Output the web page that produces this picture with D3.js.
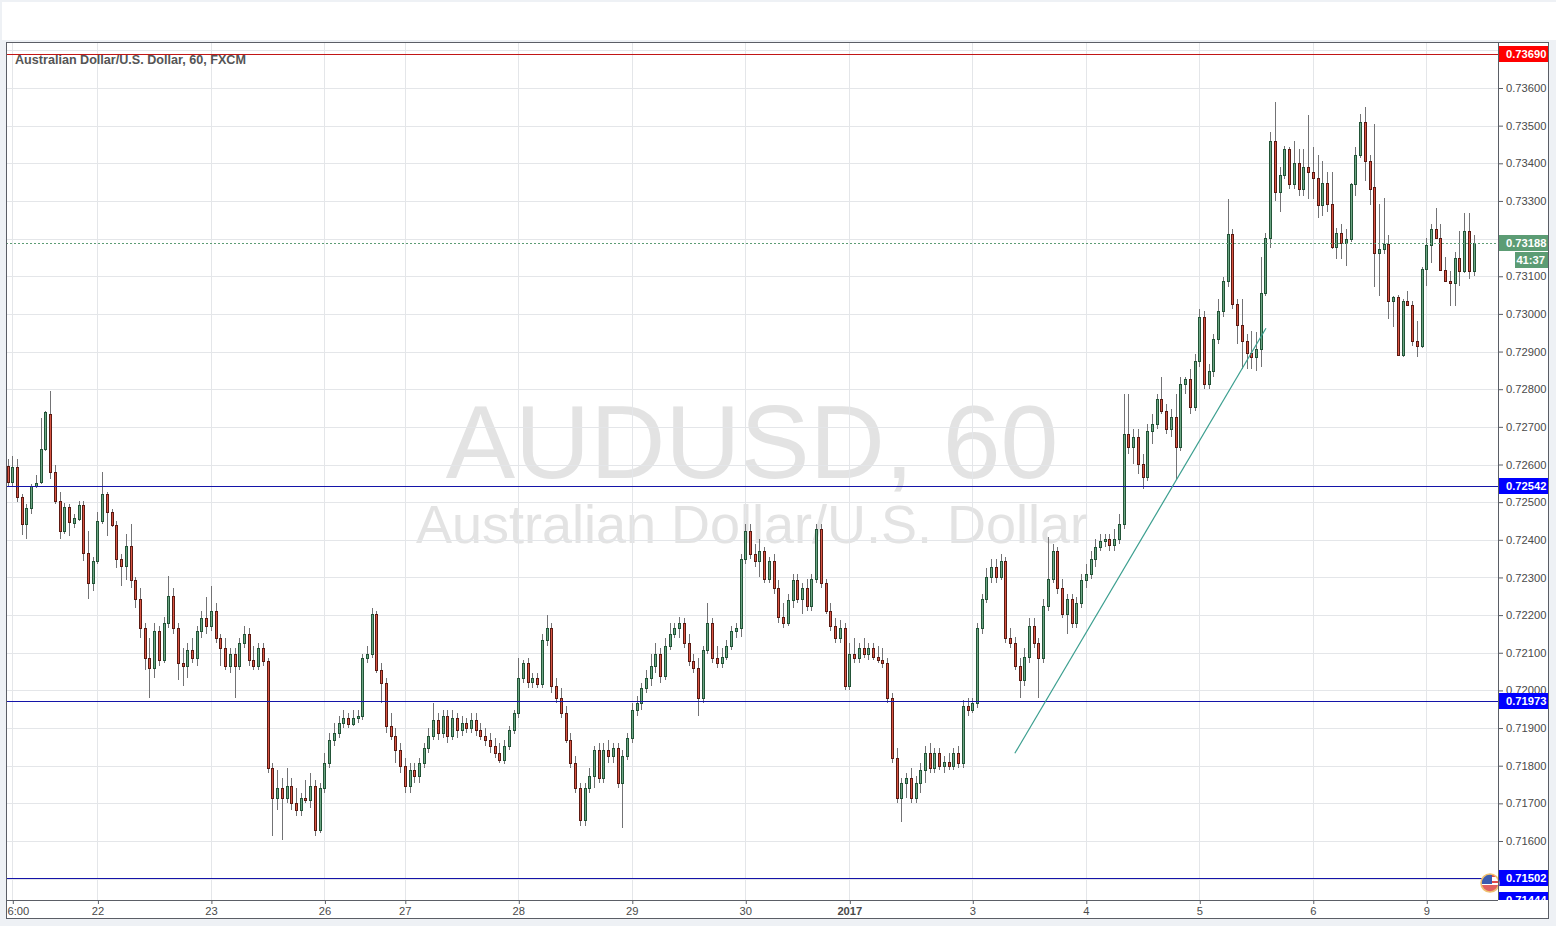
<!DOCTYPE html>
<html><head><meta charset="utf-8">
<script src="https://cdn.jsdelivr.net/npm/d3@7/dist/d3.min.js"></script>
<style>html,body{margin:0;padding:0;background:#eef1f5;overflow:hidden}svg{display:block}</style>
</head><body>
<svg id="c" width="1556" height="926"></svg>
<script>
// ---------- DATA (AUD/USD, 60 min, FXCM) ----------
const opens=[.72596,.72554,.72594,.72514,.72443,.72485,.72543,.72554,.72642,.72734,.72581,.72504,.72424,.72488,.72445,.72456,.72493,.72366,.72286,.72345,.72451,.72522,.72475,.72440,.72350,.72331,.72384,.72292,.72244,.72165,
.72085,.72059,.72159,.72080,.72178,.72252,.72165,.72072,.72064,.72106,.72085,.72159,.72191,.72170,.72212,.72138,.72112,.72064,.72098,.72064,.72125,.72151,.72080,.72064,.72112,.72077,.71794,.71714,.71741,.71714,
.71746,.71701,.71682,.71714,.71709,.71746,.71629,.71741,.71807,.71868,.71886,.71913,.71926,.71910,.71926,.71931,.72085,.72096,.72204,.72053,.72019,.71905,.71878,.71841,.71799,.71746,.71788,.71772,.71807,.71847,
.71878,.71921,.71886,.71931,.71878,.71926,.71894,.71913,.71900,.71921,.71894,.71878,.71868,.71852,.71833,.71815,.71852,.71894,.71939,.72032,.72072,.72021,.72032,.72016,.72133,.72165,.72011,.71979,.71939,.71868,
.71807,.71741,.71656,.71741,.71772,.71841,.71767,.71841,.71825,.71847,.71754,.71825,.71873,.71947,.71966,.72006,.72032,.72064,.72098,.72037,.72117,.72151,.72165,.72178,.72125,.72077,.72059,.71979,.72106,.72178,
.72085,.72072,.72090,.72117,.72159,.72165,.72350,.72424,.72363,.72345,.72371,.72297,.72345,.72271,.72196,.72178,.72239,.72292,.72244,.72271,.72223,.72297,.72430,.72284,.72212,.72170,.72138,.72165,.72011,.72098,
.72085,.72112,.72098,.72112,.72090,.72080,.72072,.71979,.71820,.71714,.71754,.71767,.71714,.71754,.71788,.71833,.71794,.71833,.71799,.71809,.71799,.71833,.71807,.71958,.71947,.71966,.72165,.72244,.72302,.72329,
.72302,.72345,.72138,.72125,.72064,.72027,.72090,.72170,.72125,.72085,.72223,.72297,.72371,.72271,.72204,.72244,.72178,.72231,.72292,.72310,.72350,.72382,.72398,.72403,.72387,.72403,.72443,.72681,.72647,.72673,
.72602,.72567,.72689,.72708,.72774,.72742,.72695,.72726,.72647,.72814,.72827,.72753,.72875,.72991,.72814,.72848,.72933,.73007,.73087,.73211,.73026,.72970,.72928,.72896,.72885,.72907,.73055,.73201,.73460,.73325,
.73368,.73437,.73346,.73402,.73333,.73391,.73376,.73362,.73288,.73349,.73293,.73179,.73214,.73187,.73198,.73346,.73423,.73511,.73407,.73336,.73161,.73172,.73185,.73034,.73044,.72891,.73034,.73023,.72928,.72914,
.73119,.73182,.73225,.73201,.73116,.73087,.73081,.73148,.73113,.73219,.73113];
const highs=[.72615,.72623,.72615,.72522,.72496,.72549,.72573,.72724,.72742,.72795,.72599,.72528,.72498,.72496,.72469,.72504,.72504,.72424,.72355,.72475,.72581,.72528,.72483,.72451,.72363,.72416,.72443,.72302,.72271,.72178,
.72138,.72178,.72170,.72196,.72305,.72271,.72178,.72112,.72125,.72138,.72170,.72212,.72249,.72278,.72231,.72151,.72138,.72112,.72112,.72138,.72170,.72165,.72117,.72125,.72125,.72085,.71807,.71788,.71767,.71794,
.71767,.71741,.71727,.71762,.71780,.71762,.71754,.71833,.71886,.71913,.71931,.71947,.71939,.71947,.71947,.72098,.72117,.72218,.72212,.72072,.72032,.71939,.71900,.71860,.71820,.71807,.71807,.71820,.71860,.71900,
.71966,.71939,.71947,.71947,.71947,.71939,.71931,.71926,.71939,.71939,.71913,.71900,.71886,.71873,.71860,.71868,.71905,.71947,.72085,.72080,.72085,.72045,.72045,.72151,.72199,.72178,.72032,.72006,.71958,.71886,
.71825,.71754,.71754,.71794,.71852,.71860,.71860,.71868,.71860,.71860,.71841,.71886,.71966,.71984,.72019,.72053,.72098,.72125,.72112,.72138,.72178,.72178,.72196,.72191,.72151,.72098,.72085,.72117,.72231,.72191,
.72117,.72112,.72133,.72170,.72178,.72363,.72443,.72443,.72390,.72403,.72382,.72355,.72363,.72292,.72231,.72257,.72310,.72310,.72284,.72297,.72310,.72443,.72443,.72297,.72231,.72191,.72186,.72178,.72125,.72138,
.72125,.72138,.72125,.72125,.72117,.72112,.72085,.71992,.71847,.71767,.71780,.71794,.71772,.71807,.71852,.71860,.71847,.71847,.71825,.71833,.71847,.71852,.71974,.71979,.71979,.72178,.72257,.72324,.72350,.72350,
.72363,.72355,.72165,.72143,.72085,.72112,.72191,.72191,.72138,.72244,.72408,.72390,.72382,.72297,.72257,.72257,.72249,.72310,.72337,.72371,.72403,.72416,.72416,.72416,.72430,.72469,.72787,.72787,.72695,.72695,
.72628,.72708,.72734,.72787,.72832,.72761,.72748,.72787,.72832,.72832,.72854,.72893,.73013,.73007,.72867,.72946,.73039,.73097,.73304,.73225,.73039,.73039,.72946,.72954,.72952,.73150,.73214,.73482,.73564,.73391,
.73447,.73444,.73458,.73437,.73437,.73527,.73444,.73421,.73407,.73376,.73376,.73227,.73240,.73225,.73349,.73442,.73532,.73550,.73423,.73505,.73291,.73309,.73209,.73047,.73050,.73039,.73060,.73034,.72981,.73124,
.73201,.73240,.73280,.73240,.73150,.73113,.73164,.73219,.73267,.73267,.73209];
const lows=[.72543,.72543,.72501,.72414,.72403,.72469,.72538,.72549,.72636,.72562,.72496,.72403,.72416,.72411,.72432,.72451,.72345,.72244,.72265,.72337,.72443,.72411,.72435,.72324,.72276,.72292,.72271,.72218,.72138,.72053,
.71979,.72032,.72064,.72072,.72165,.72151,.72027,.72011,.72032,.72072,.72064,.72138,.72151,.72159,.72125,.72064,.72053,.72045,.71979,.72053,.72112,.72064,.72053,.72053,.72064,.71780,.71613,.71682,.71603,.71701,
.71682,.71666,.71666,.71701,.71688,.71613,.71621,.71727,.71794,.71852,.71873,.71900,.71900,.71905,.71913,.71921,.72072,.72085,.72045,.71966,.71886,.71868,.71807,.71780,.71727,.71727,.71754,.71754,.71794,.71833,
.71868,.71868,.71873,.71860,.71868,.71873,.71878,.71886,.71886,.71878,.71868,.71852,.71833,.71820,.71807,.71804,.71841,.71884,.71926,.72019,.72006,.72006,.72006,.72006,.72117,.71992,.71966,.71926,.71860,.71794,
.71727,.71640,.71640,.71727,.71741,.71754,.71754,.71807,.71807,.71741,.71635,.71815,.71860,.71931,.71947,.71992,.72011,.72045,.72019,.72027,.72106,.72138,.72138,.72112,.72064,.72045,.71931,.71966,.72096,.72072,
.72059,.72059,.72080,.72106,.72138,.72143,.72337,.72350,.72329,.72302,.72284,.72284,.72257,.72178,.72165,.72170,.72218,.72231,.72204,.72212,.72212,.72284,.72271,.72204,.72159,.72125,.72125,.72000,.72000,.72072,
.72072,.72085,.72080,.72080,.72072,.72059,.71966,.71807,.71701,.71650,.71714,.71701,.71701,.71727,.71754,.71780,.71780,.71788,.71780,.71788,.71788,.71794,.71794,.71931,.71939,.71953,.72151,.72231,.72284,.72284,
.72292,.72125,.72112,.72053,.71979,.72011,.72072,.72112,.71979,.72072,.72212,.72284,.72257,.72191,.72151,.72165,.72165,.72218,.72271,.72297,.72329,.72371,.72382,.72371,.72371,.72390,.72430,.72628,.72602,.72575,
.72536,.72557,.72655,.72695,.72734,.72681,.72673,.72562,.72636,.72787,.72734,.72742,.72859,.72801,.72801,.72832,.72920,.72991,.73071,.73013,.72920,.72854,.72854,.72854,.72848,.72859,.73047,.73174,.73299,.73270,
.73357,.73331,.73331,.73312,.73312,.73304,.73304,.73256,.73259,.73270,.73172,.73145,.73145,.73126,.73190,.73312,.73413,.73354,.73288,.73071,.73047,.73158,.72986,.72965,.72888,.72885,.73020,.72914,.72885,.72909,
.73073,.73134,.73198,.73113,.73084,.73020,.73020,.73073,.73108,.73092,.73100];
const closes=[.72554,.72594,.72514,.72443,.72485,.72543,.72551,.72642,.72740,.72581,.72504,.72424,.72488,.72448,.72459,.72493,.72366,.72286,.72345,.72451,.72522,.72475,.72440,.72350,.72331,.72384,.72292,.72244,.72165,.72085,
.72059,.72159,.72080,.72178,.72252,.72165,.72072,.72064,.72106,.72085,.72159,.72191,.72170,.72212,.72138,.72112,.72064,.72098,.72064,.72125,.72151,.72080,.72064,.72112,.72077,.71794,.71714,.71741,.71714,.71746,
.71701,.71682,.71714,.71709,.71746,.71629,.71741,.71807,.71868,.71886,.71913,.71926,.71910,.71926,.71931,.72085,.72096,.72204,.72053,.72019,.71905,.71878,.71841,.71799,.71746,.71788,.71772,.71807,.71847,.71878,
.71921,.71886,.71931,.71878,.71926,.71894,.71913,.71900,.71921,.71894,.71878,.71868,.71852,.71833,.71815,.71852,.71894,.71939,.72032,.72072,.72021,.72032,.72016,.72133,.72165,.72011,.71979,.71939,.71868,.71807,
.71741,.71656,.71741,.71772,.71841,.71767,.71841,.71825,.71847,.71754,.71825,.71873,.71947,.71966,.72006,.72032,.72064,.72098,.72037,.72117,.72151,.72165,.72178,.72125,.72077,.72059,.71979,.72106,.72178,.72085,
.72072,.72090,.72117,.72159,.72165,.72350,.72424,.72363,.72345,.72371,.72297,.72345,.72271,.72196,.72178,.72239,.72292,.72244,.72271,.72223,.72297,.72430,.72284,.72212,.72170,.72138,.72165,.72011,.72098,.72085,
.72112,.72098,.72112,.72090,.72080,.72072,.71979,.71820,.71714,.71754,.71767,.71714,.71754,.71788,.71833,.71794,.71833,.71799,.71809,.71799,.71833,.71807,.71958,.71947,.71966,.72165,.72244,.72302,.72329,.72302,
.72345,.72138,.72125,.72064,.72027,.72090,.72170,.72125,.72085,.72223,.72297,.72371,.72271,.72204,.72244,.72178,.72231,.72292,.72310,.72350,.72382,.72398,.72403,.72387,.72403,.72443,.72681,.72647,.72673,.72602,
.72567,.72689,.72708,.72774,.72742,.72695,.72726,.72647,.72814,.72827,.72753,.72875,.72991,.72814,.72848,.72933,.73007,.73087,.73211,.73026,.72970,.72928,.72896,.72885,.72907,.73055,.73201,.73460,.73325,.73368,
.73437,.73346,.73402,.73333,.73391,.73376,.73362,.73288,.73349,.73293,.73179,.73214,.73187,.73198,.73346,.73423,.73511,.73407,.73333,.73161,.73172,.73185,.73034,.73044,.72891,.73034,.73023,.72928,.72914,.73119,
.73182,.73225,.73201,.73116,.73087,.73081,.73148,.73113,.73219,.73113,.73188];

const priceTicks=[0.7150,0.7160,0.7170,0.7180,0.7190,0.7200,0.7210,0.7220,0.7230,0.7240,0.7250,0.7260,0.7270,0.7280,0.7290,0.7300,0.7310,0.7320,0.7330,0.7340,0.7350,0.7360,0.7370];
const timeTickIdx=[1,19,43,67,84,108,132,156,178,204,228,252,276,300];
const timeTickLabels=["6:00","22","23","26","27","28","29","30","2017","3","4","5","6","9"];
const levelValues=[0.73690,0.72542,0.71973,0.71502,0.71444];
const levelColors=["#c21616","#1414a8","#1414a8","#1414a8","#1414a8"];
const levelBoxColors=["#ff0000","#0000ff","#0000ff","#0000ff","#0000ff"];
const lastPrice=0.73188, countdown="41:37";
const trendIdx=[213,266.1], trendPrice=[0.71833,0.72962];
const title="Australian Dollar/U.S. Dollar, 60, FXCM";
const watermark1="AUDUSD, 60", watermark2="Australian Dollar/U.S. Dollar";

// ---------- LAYOUT ----------
const W=1556,H=926;
const F={l:6,t:42,r:1549,b:919};
const P={l:6,t:42,r:1498,b:900};
const UP="#6ba583",DN="#d75442",UPB="#225437",DNB="#5b1a13",WICK="#737375";
const AX="#5b5e66",TXT="#4a4a4a",GRID="#e4e6e9",LASTC="#5c9c74";
const FONT="'Liberation Sans',Arial,sans-serif";
const AXFS=11.2;

const svg=d3.select("#c");
svg.append("rect").attr("width",W).attr("height",H).attr("fill","#eef1f5");
svg.append("rect").attr("x",2).attr("y",2).attr("width",W-2).attr("height",38).attr("fill","#fff");
svg.append("rect").attr("x",F.l).attr("y",F.t).attr("width",F.r-F.l).attr("height",F.b-F.t).attr("fill","#fff");

const defs=svg.append("defs");
defs.append("clipPath").attr("id","plotClip").append("rect").attr("x",P.l+1).attr("y",P.t+1).attr("width",P.r-P.l-1).attr("height",P.b-P.t-1);
defs.append("clipPath").attr("id","axClip").append("rect").attr("x",P.r).attr("y",P.t+1).attr("width",F.r-P.r).attr("height",P.b-P.t-1);

const x=d3.scaleLinear().domain([0,310]).range([7.57,7.57+310*4.729]);
const y=d3.scaleLinear().domain([0.716,0.736]).range([841,88]);
const cr=v=>Math.round(v)+0.5;

const plot=svg.append("g").attr("clip-path","url(#plotClip)");
// watermark
plot.append("text").attr("x",752).attr("y",478).attr("text-anchor","middle").attr("font-family",FONT)
  .attr("font-size",104).attr("fill","#e3e3e3").text(watermark1);
plot.append("text").attr("x",752).attr("y",543).attr("text-anchor","middle").attr("font-family",FONT)
  .attr("font-size",54).attr("fill","#e3e3e3").text(watermark2);
// grid
plot.selectAll(".hg").data(priceTicks).join("line").attr("x1",P.l).attr("x2",P.r)
  .attr("y1",d=>cr(y(d))).attr("y2",d=>cr(y(d))).attr("stroke",GRID);
plot.selectAll(".vg").data(timeTickIdx).join("line").attr("y1",P.t).attr("y2",P.b)
  .attr("x1",d=>cr(x(d))).attr("x2",d=>cr(x(d))).attr("stroke",GRID);
// title
plot.append("text").attr("x",15).attr("y",64).attr("font-family",FONT).attr("font-size",12.6)
  .attr("font-weight","bold").attr("fill","#555").text(title);

// candles
const bars=d3.range(opens.length).map(i=>({i,o:opens[i],h:highs[i],l:lows[i],c:closes[i]}));
const cg=plot.append("g").attr("shape-rendering","crispEdges");
bars.forEach(b=>{
  const px=Math.round(x(b.i));
  const up=b.c>=b.o;
  cg.append("rect").attr("x",px).attr("width",1).attr("y",Math.round(y(b.h))).attr("height",Math.max(1,Math.round(y(b.l))-Math.round(y(b.h)))).attr("fill",WICK);
  const yt=Math.round(y(Math.max(b.o,b.c))), yb=Math.round(y(Math.min(b.o,b.c)));
  const hh=Math.max(2,yb-yt+1);
  cg.append("rect").attr("x",px-1).attr("width",3).attr("y",yt).attr("height",hh).attr("fill",up?UPB:DNB);
  if(hh>2) cg.append("rect").attr("x",px).attr("width",1).attr("y",yt+1).attr("height",hh-2).attr("fill",up?UP:DN);
});

// level lines
levelValues.forEach((v,k)=>{
  plot.append("rect").attr("x",P.l).attr("width",P.r-P.l).attr("y",Math.round(y(v))).attr("height",1)
    .attr("fill",levelColors[k]).attr("shape-rendering","crispEdges");
});
// last price dotted line
plot.append("line").attr("x1",P.l).attr("x2",P.r).attr("y1",cr(y(lastPrice))).attr("y2",cr(y(lastPrice)))
  .attr("stroke",LASTC).attr("stroke-dasharray","2,2");
// trend line
plot.append("line").attr("x1",x(trendIdx[0])).attr("y1",y(trendPrice[0])).attr("x2",x(trendIdx[1])).attr("y2",y(trendPrice[1]))
  .attr("stroke","#3a9e8e").attr("stroke-width",1.2);

// price axis (labels hidden where a price box fully covers them)
const boxedVals=levelValues.concat([lastPrice]);
const paOuter=svg.append("g").attr("clip-path","url(#axClip)");
const pa=paOuter.append("g").attr("transform",`translate(${P.r},0)`)
  .call(d3.axisRight(y).tickValues(priceTicks).tickSize(5).tickPadding(3).tickFormat(d=>d.toFixed(5)));
pa.select(".domain").remove();
pa.selectAll("line").attr("stroke",AX);
pa.selectAll("text").attr("font-family",FONT).attr("font-size",AXFS).attr("fill",TXT)
  .attr("display",d=>boxedVals.some(v=>Math.abs(y(v)-y(d))<7)?"none":null);

// boxes on price axis
const bx=svg.append("g").attr("clip-path","url(#axClip)");
function box(v,fill,label){
  const cy=Math.round(y(v));
  bx.append("rect").attr("x",P.r+1).attr("y",cy-8).attr("width",F.r-P.r-1).attr("height",16).attr("fill",fill);
  bx.append("text").attr("x",P.r+8).attr("y",cy).attr("dy","0.36em").attr("font-family",FONT).attr("font-size",AXFS)
    .attr("font-weight","bold").attr("fill","#fff").text(label);
}
levelValues.forEach((v,k)=>box(v,levelBoxColors[k],v.toFixed(5)));
box(lastPrice,LASTC,lastPrice.toFixed(5));
{
  const cy=Math.round(y(lastPrice))+17;
  bx.append("rect").attr("x",1515).attr("y",cy-8).attr("width",F.r-1515).attr("height",16).attr("fill",LASTC);
  bx.append("text").attr("x",1545).attr("y",cy).attr("dy","0.36em").attr("text-anchor","end").attr("font-family",FONT)
    .attr("font-size",AXFS).attr("font-weight","bold").attr("fill","#fff").text(countdown);
}

// flag icon
{
  const fx=1490,fy=883,r=9;
  const fc=defs.append("clipPath").attr("id","flagClip");
  fc.append("circle").attr("cx",fx).attr("cy",fy).attr("r",r);
  const fg=svg.append("g").attr("clip-path","url(#flagClip)");
  fg.append("rect").attr("x",fx-r).attr("y",fy-r).attr("width",2*r).attr("height",2*r).attr("fill","#fff");
  [0,2,4].forEach(k=>fg.append("rect").attr("x",fx-r).attr("y",fy-r+k*3+1).attr("width",2*r).attr("height",2).attr("fill","#e04a4a"));
  fg.append("rect").attr("x",fx-r).attr("y",fy+2).attr("width",2*r).attr("height",r).attr("fill","#e06060");
  fg.append("rect").attr("x",fx-r).attr("y",fy-r).attr("width",r+2).attr("height",r+1).attr("fill","#3b5bb0");
  svg.append("circle").attr("cx",fx).attr("cy",fy).attr("r",r).attr("fill","none").attr("stroke","#f0c070").attr("stroke-width",1.6);
}

// time axis
const ta=svg.append("g").attr("transform",`translate(0,${P.b})`)
  .call(d3.axisBottom(x).tickValues(timeTickIdx).tickSize(4).tickPadding(3).tickFormat((d,i)=>timeTickLabels[i]));
ta.select(".domain").remove();
ta.selectAll("line").attr("stroke",AX).attr("transform","translate(0.5,0)");
ta.selectAll("text").attr("font-family",FONT).attr("font-size",AXFS).attr("fill",TXT)
  .attr("font-weight",(d,i)=>timeTickLabels[i]==="2017"?"bold":"normal");
// first label sits against the left frame edge, as in the chart
ta.selectAll("text").filter((d,i)=>i===0).attr("text-anchor","start").attr("x",F.l+1-x(timeTickIdx[0]));

// frame lines
const fr=svg.append("g").attr("stroke",AX).attr("shape-rendering","crispEdges").attr("fill","none");
fr.append("rect").attr("x",F.l+0.5).attr("y",F.t+0.5).attr("width",F.r-F.l-1).attr("height",F.b-F.t-1);
fr.append("line").attr("x1",F.l).attr("x2",P.r).attr("y1",P.b+0.5).attr("y2",P.b+0.5);
fr.append("line").attr("x1",P.r+0.5).attr("x2",P.r+0.5).attr("y1",P.t).attr("y2",P.b);
</script>
</body></html>
